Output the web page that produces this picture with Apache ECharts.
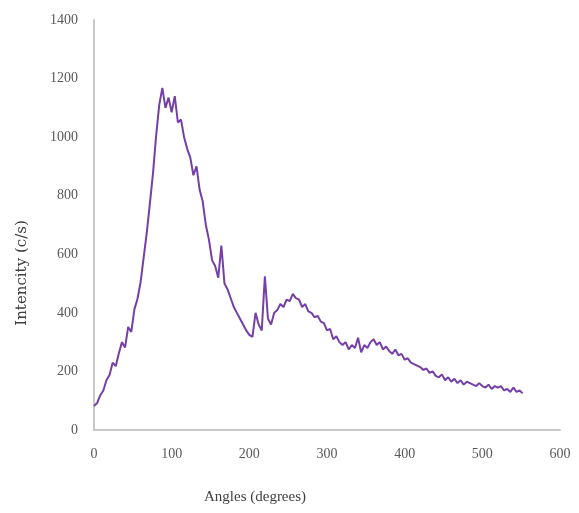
<!DOCTYPE html>
<html>
<head>
<meta charset="utf-8">
<script src="https://cdn.jsdelivr.net/npm/echarts@6/dist/echarts.min.js"></script>
<style>
  html, body { margin: 0; padding: 0; background: #ffffff; }
  #chart { width: 579px; height: 513px; }
</style>
</head>
<body>
<div id="chart"></div>
<script>
// Scattered intensity versus scattering angle
const angles = [
  0, 4, 8, 12, 16, 20, 24, 28, 32, 36, 40, 44, 48, 52, 56, 60, 64, 68, 72, 76,
  80, 84, 88, 92, 96, 100, 104, 108, 112, 116, 120, 124, 128, 132, 136, 140, 144, 148, 152, 156,
  160, 164, 168, 172, 176, 180, 184, 188, 192, 196, 200, 204, 208, 212, 216, 220, 224, 228, 232, 236,
  240, 244, 248, 252, 256, 260, 264, 268, 272, 276, 280, 284, 288, 292, 296, 300, 304, 308, 312, 316,
  320, 324, 328, 332, 336, 340, 344, 348, 352, 356, 360, 364, 368, 372, 376, 380, 384, 388, 392, 396,
  400, 404, 408, 412, 416, 420, 424, 428, 432, 436, 440, 444, 448, 452, 456, 460, 464, 468, 472, 476,
  480, 484, 488, 492, 496, 500, 504, 508, 512, 516, 520, 524, 528, 532, 536, 540, 544, 548, 552
];
const intensity = [
  82, 92, 118, 135, 170, 188, 230, 218, 262, 300, 282, 352, 335, 412, 448, 505, 590, 675, 775, 878,
  1005, 1110, 1168, 1100, 1135, 1085, 1140, 1050, 1060, 1000, 960, 930, 870, 900, 820, 780, 700, 650, 580, 560,
  520, 630, 500, 480, 450, 420, 400, 380, 360, 340, 325, 318, 400, 360, 340, 525, 380, 360, 400, 410,
  430, 420, 445, 440, 465, 450, 445, 420, 430, 405, 400, 385, 390, 370, 365, 340, 345, 310, 320, 300,
  290, 300, 275, 290, 280, 315, 265, 290, 280, 300, 310, 290, 300, 275, 285, 270, 260, 275, 255, 260,
  240, 245, 230, 225, 220, 215, 205, 210, 195, 200, 185, 180, 190, 170, 180, 165, 175, 160, 170, 155,
  165, 160, 155, 150, 160, 150, 145, 155, 140, 150, 145, 150, 135, 140, 130, 145, 130, 135, 125
];
const xTicks = [0, 100, 200, 300, 400, 500, 600];
const yTicks = [0, 200, 400, 600, 800, 1000, 1200, 1400];

const points = angles.map((a, i) => [a, intensity[i]]);

const chart = echarts.init(document.getElementById('chart'), null, { renderer: 'canvas' });

const labelFont = {
  fontFamily: 'Liberation Serif',
  fontSize: 14,
  color: '#595959'
};

chart.setOption({
  animation: false,
  backgroundColor: '#ffffff',
  grid: { left: 94, right: 19, top: 20, bottom: 83 },
  xAxis: {
    type: 'value',
    min: xTicks[0],
    max: xTicks[xTicks.length - 1],
    interval: 100,
    axisLine: { show: true, lineStyle: { color: '#c8c8c8', width: 2 } },
    axisTick: { show: false },
    splitLine: { show: false },
    axisLabel: Object.assign({ margin: 17, formatter: v => String(v) }, labelFont)
  },
  yAxis: {
    type: 'value',
    min: yTicks[0],
    max: yTicks[yTicks.length - 1],
    interval: 200,
    axisLine: { show: true, lineStyle: { color: '#c8c8c8', width: 2 } },
    axisTick: { show: false },
    splitLine: { show: false },
    axisLabel: Object.assign({ margin: 16, formatter: v => String(v) }, labelFont)
  },
  series: [{
    type: 'line',
    data: points,
    showSymbol: false,
    smooth: false,
    lineStyle: { color: '#7440a8', width: 2 }
  }],
  graphic: [
    {
      type: 'text',
      x: 255,
      y: 497,
      style: {
        text: 'Angles (degrees)',
        font: '15px "Liberation Serif"',
        fill: '#404040',
        textAlign: 'center',
        textVerticalAlign: 'middle'
      }
    },
    {
      type: 'text',
      x: 22,
      y: 273,
      rotation: Math.PI / 2,
      style: {
        text: 'Intencity (c/s)',
        font: '15px "DejaVu Serif"',
        fill: '#404040',
        textAlign: 'center',
        textVerticalAlign: 'middle'
      }
    }
  ]
});
</script>
</body>
</html>
